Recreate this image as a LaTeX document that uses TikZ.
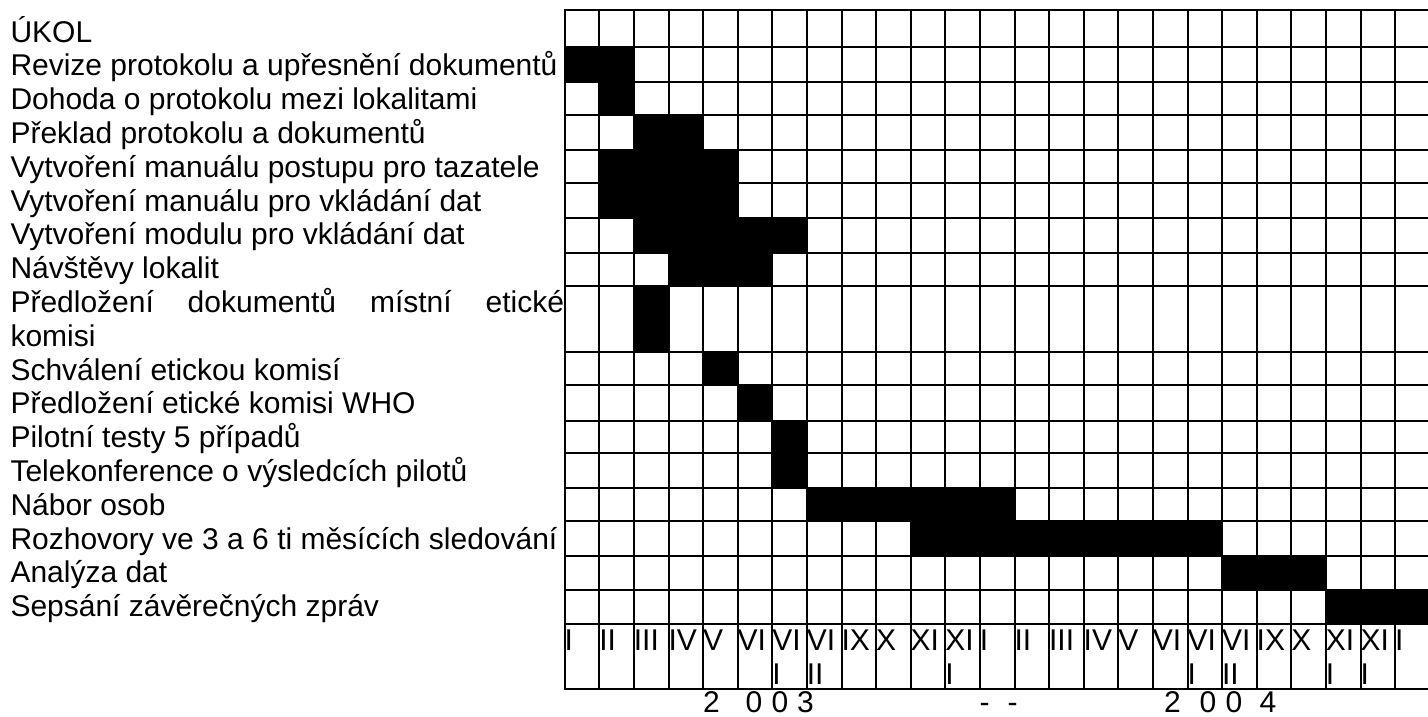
\documentclass[tikz,border=0pt]{standalone}
\usepackage{fontspec}
\setmainfont{Liberation Sans}
\begin{document}
\begin{tikzpicture}[x=1pt,y=-1pt,
  txt/.style={anchor=base west,inner sep=0pt,outer sep=0pt,font=\fontsize{30}{34}\selectfont},
  gridline/.style={line width=2pt,line cap=rect}]
\useasboundingbox (0,0) rectangle (1428,716);
\def\cx{564.7}\def\cw{34.6}
% black bars
\foreach \t/\b/\a/\e in {47.3/82/0/1, 82/115.3/1/1, 115.3/150/2/3, 150/183.3/1/4,
  183.3/218/1/4, 218/252.7/2/6, 252.7/286/3/5, 286/352/2/2, 352/385.3/4/4,
  385.3/420.5/5/5, 420.5/453.3/6/6, 453.3/488.3/6/6, 488.3/521/7/12,
  521/556/10/18, 556/590/19/21, 590/624.3/22/24}
  \fill[black] ({\cx+\cw*\a},\t) rectangle ({\cx+\cw*(\e+1)},\b);
% horizontal lines
\foreach \y in {10.3,47.3,82,115.3,150,183.3,218,252.7,286,352,385.3,420.5,453.3,488.3,521,556,590,624.3,689.3}
  \draw[gridline] (\cx,\y) -- ({\cx+\cw*25},\y);
% vertical lines
\foreach \k in {0,...,25}
  \draw[gridline] ({\cx+\cw*\k},10.3) -- ({\cx+\cw*\k},689.3);
% task texts
\foreach \i/\s in {0/ÚKOL, 1/Revize protokolu a upřesnění dokumentů,
  2/Dohoda o protokolu mezi lokalitami, 3/Překlad protokolu a dokumentů,
  4/Vytvoření manuálu postupu pro tazatele, 5/Vytvoření manuálu pro vkládání dat,
  6/Vytvoření modulu pro vkládání dat, 7/Návštěvy lokalit,
  9/komisi, 10/Schválení etickou komisí, 11/Předložení etické komisi WHO,
  12/Pilotní testy 5 případů, 13/Telekonference o výsledcích pilotů,
  14/Nábor osob, 15/Rozhovory ve 3 a 6 ti měsících sledování,
  16/Analýza dat, 17/Sepsání závěrečných zpráv}
  \node[txt] (t\i) at (10.5,{42+33.8*\i}) {\s};
\node[txt] (t8) at (10.5,{42+33.8*8}) {\makebox[553.5pt][s]{Předložení dokumentů místní etické}};
% month labels, first line
\foreach \k/\m in {0/I,1/II,2/III,3/IV,4/V,5/VI,6/VI,7/VI,8/IX,9/X,10/XI,11/XI,
  12/I,13/II,14/III,15/IV,16/V,17/VI,18/VI,19/VI,20/IX,21/X,22/XI,23/XI,24/I}
  \node[txt] (ma\k) at ({\cx+\cw*\k},650) {\m};
% month labels, second line
\foreach \k/\m in {6/I,7/II,11/I,18/I,19/II,22/I,23/I}
  \node[txt] (mb\k) at ({\cx+\cw*\k},684) {\m};
% years
\node[txt] (ya) at (703,712) {2};
\node[txt] (yb) at (745.7,712) {0};
\node[txt] (yc) at (771.7,712) {0};
\node[txt] (yd) at (797,712) {3};
\node[txt] (da) at (979.7,712) {-};
\node[txt] (db) at (1007.7,712) {-};
\node[txt] (ye) at (1164,712) {2};
\node[txt] (yf) at (1199.7,712) {0};
\node[txt] (yg) at (1225.7,712) {0};
\node[txt] (yh) at (1259.5,712) {4};
\end{tikzpicture}
\end{document}
